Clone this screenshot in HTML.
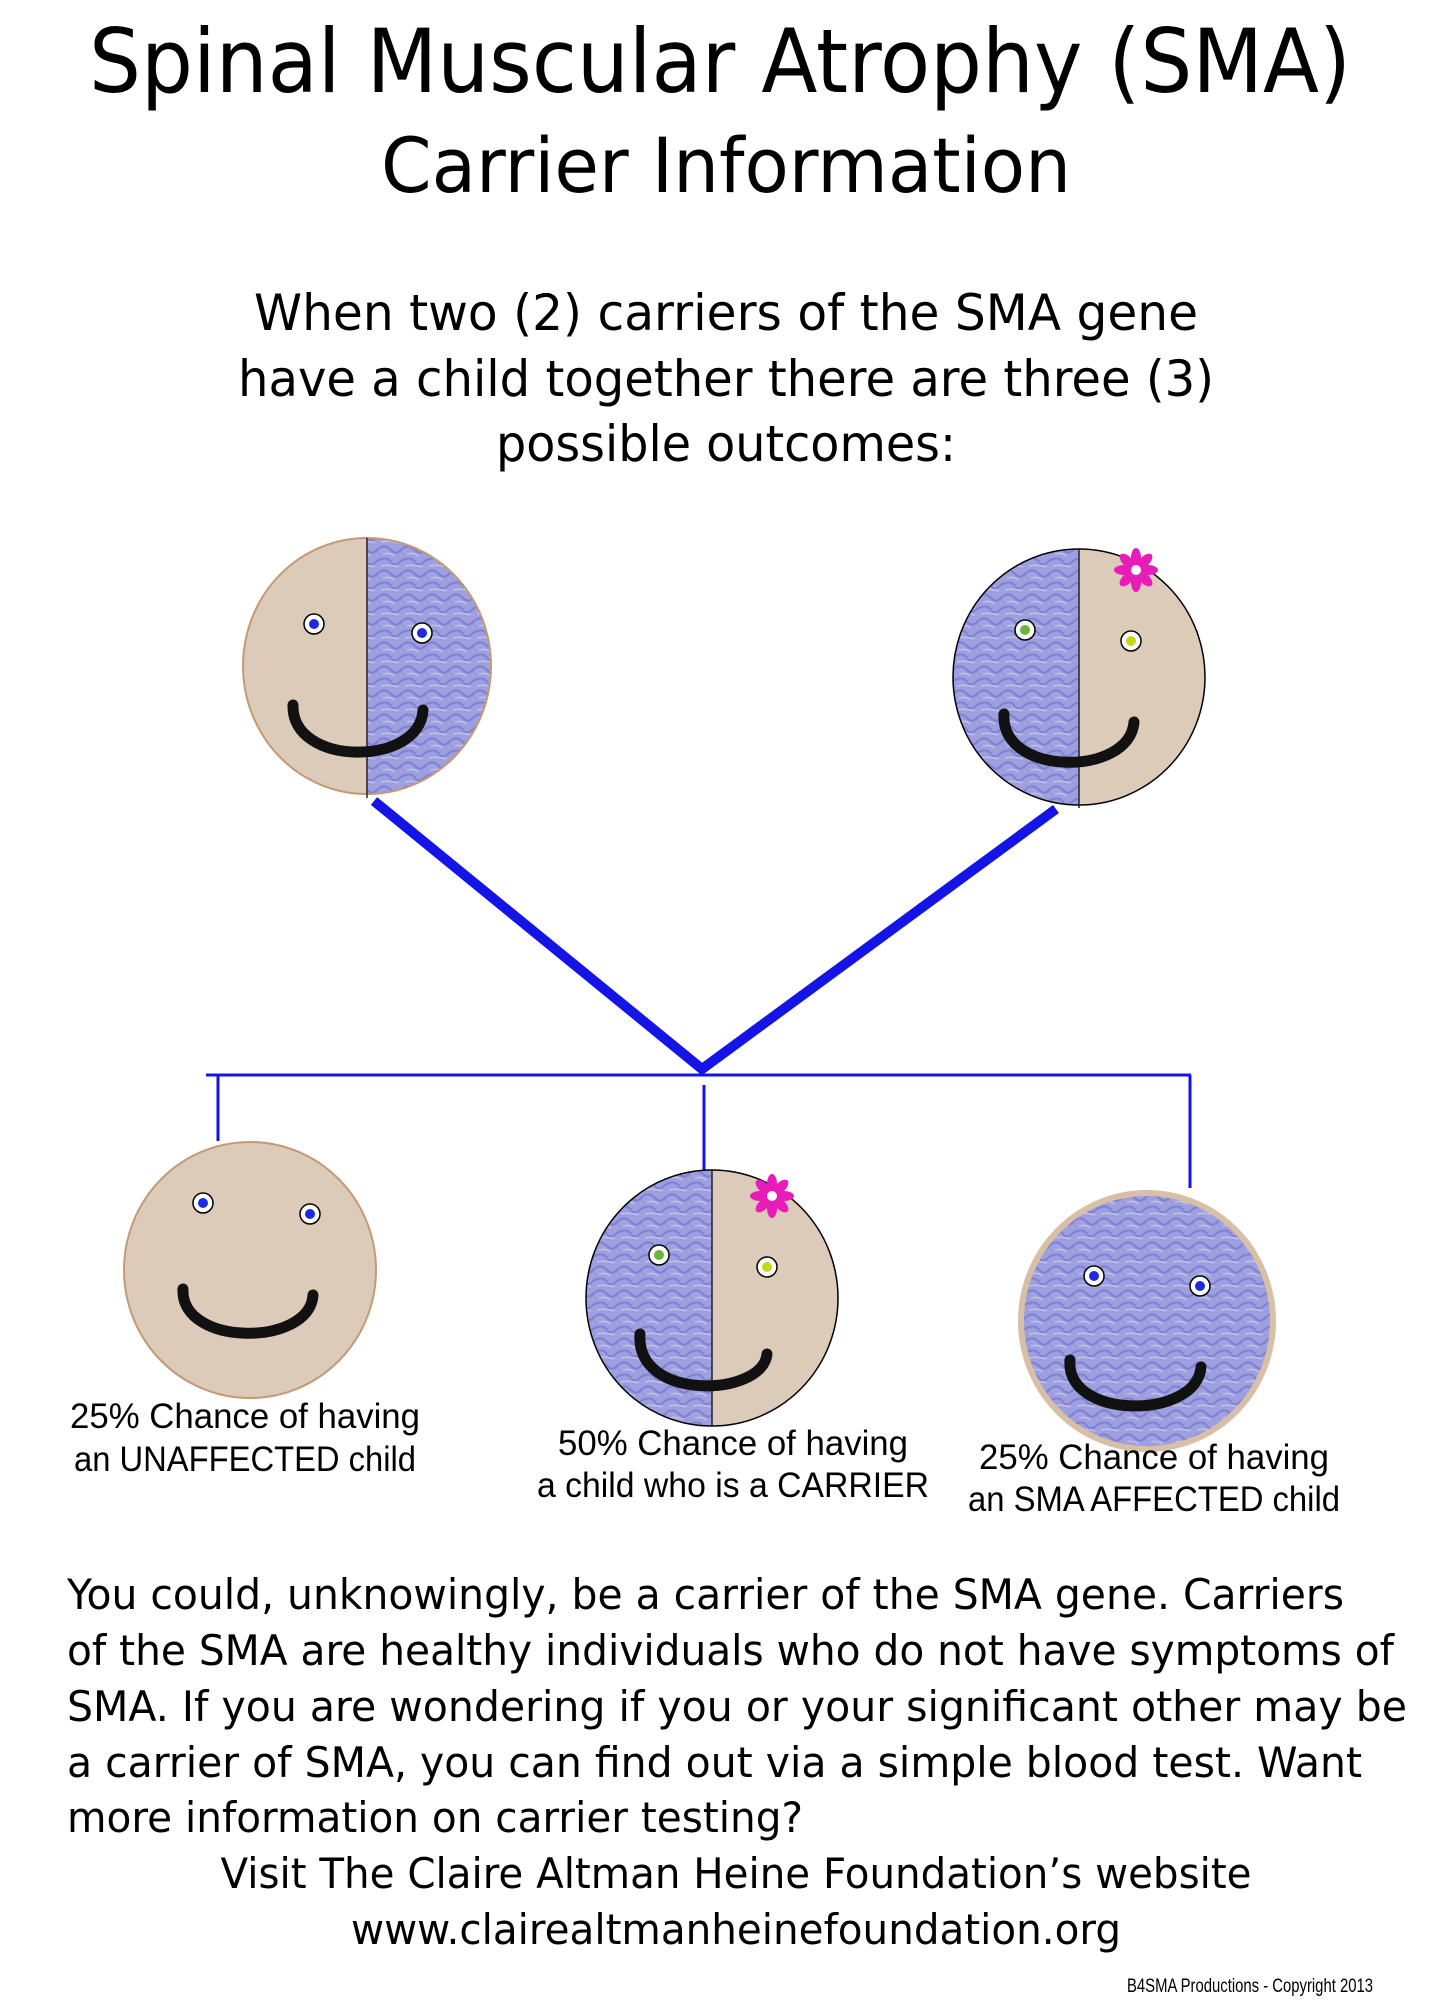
<!DOCTYPE html>
<html><head><meta charset="utf-8"><style>
html,body{margin:0;padding:0;background:#fff;width:1440px;height:2016px;overflow:hidden}
svg{display:block}
text{font-family:"DejaVu Sans","Liberation Sans",sans-serif;fill:#000}
.l{font-family:"Liberation Sans",sans-serif}
</style></head><body>
<svg width="1440" height="2016" viewBox="0 0 1440 2016" xmlns="http://www.w3.org/2000/svg">
<defs>
<pattern id="blue" patternUnits="userSpaceOnUse" width="24" height="24">
<rect width="24" height="24" fill="#9e9fdf"/>
<path d="M0,4 Q6,0 12,6 T24,4 M0,16 Q8,12 12,18 T24,15" fill="none" stroke="#7d80d6" stroke-width="2"/>
<path d="M4,10 Q10,8 16,12 M2,22 Q10,20 20,23" fill="none" stroke="#c2c2e6" stroke-width="1.5"/>
</pattern>
<g id="eyeB"><circle r="10" fill="#fff" stroke="#000" stroke-width="1.5"/><circle r="5" fill="#1a2be0"/></g>
<g id="eyeG"><circle r="10" fill="#fff" stroke="#000" stroke-width="1.5"/><circle r="5" fill="#6ab53a"/></g>
<g id="eyeY"><circle r="10" fill="#fff" stroke="#000" stroke-width="1.5"/><circle r="5" fill="#c6d61a"/></g>
<g id="flower" fill="#e81cb8">
<ellipse cx="0" cy="-12" rx="5" ry="10"/><ellipse cx="0" cy="12" rx="5" ry="10"/>
<ellipse cx="-12" cy="0" rx="10" ry="5"/><ellipse cx="12" cy="0" rx="10" ry="5"/>
<ellipse cx="0" cy="-12" rx="5" ry="10" transform="rotate(45)"/><ellipse cx="0" cy="12" rx="5" ry="10" transform="rotate(45)"/>
<ellipse cx="0" cy="-12" rx="5" ry="10" transform="rotate(-45)"/><ellipse cx="0" cy="12" rx="5" ry="10" transform="rotate(-45)"/>
<circle r="5" fill="#fff"/></g>
<clipPath id="cL"><ellipse cx="372" cy="674" rx="124" ry="128"/></clipPath>
<clipPath id="cR"><ellipse cx="1084" cy="685" rx="126" ry="128"/></clipPath>
<clipPath id="cM"><ellipse cx="717" cy="1306" rx="126" ry="128"/></clipPath>
</defs>

<text x="720" y="92" font-size="88" text-anchor="middle" textLength="1262" lengthAdjust="spacingAndGlyphs">Spinal Muscular Atrophy (SMA)</text>
<text x="726" y="192" font-size="76" text-anchor="middle" textLength="690" lengthAdjust="spacingAndGlyphs">Carrier Information</text>
<text x="726" y="330" font-size="50" text-anchor="middle" textLength="944" lengthAdjust="spacingAndGlyphs">When two (2) carriers of the SMA gene</text>
<text x="726" y="396" font-size="50" text-anchor="middle" textLength="976" lengthAdjust="spacingAndGlyphs">have a child together there are three (3)</text>
<text x="726" y="461" font-size="50" text-anchor="middle" textLength="460" lengthAdjust="spacingAndGlyphs">possible outcomes:</text>

<g transform="translate(-5,-8)">
<g clip-path="url(#cL)">
<rect x="240" y="540" width="132" height="270" fill="#dccbb8"/>
<rect x="372" y="540" width="130" height="270" fill="url(#blue)"/>
</g>
<ellipse cx="372" cy="674" rx="124" ry="128" fill="none" stroke="#c49a76" stroke-width="2"/>
<line x1="372" y1="546" x2="372" y2="806" stroke="#222" stroke-width="1.5"/>
<use href="#eyeB" x="319" y="632"/><use href="#eyeB" x="427" y="641"/>
<path d="M298,713 C296,775 425,775 428,718" fill="none" stroke="#111" stroke-width="11" stroke-linecap="round"/>

<g clip-path="url(#cR)">
<rect x="950" y="550" width="134" height="270" fill="url(#blue)"/>
<rect x="1084" y="550" width="130" height="270" fill="#dccbb8"/>
</g>
<ellipse cx="1084" cy="685" rx="126" ry="128" fill="none" stroke="#000" stroke-width="1.5"/>
<line x1="1084" y1="557" x2="1084" y2="816" stroke="#222" stroke-width="1.5"/>
<use href="#eyeG" x="1030" y="638"/><use href="#eyeY" x="1136" y="649"/>
<path d="M1009,722 C1005,785 1135,785 1139,730" fill="none" stroke="#111" stroke-width="11" stroke-linecap="round"/>
<use href="#flower" x="1141" y="578"/>

<path d="M379,809 L707,1077 L1061,817" fill="none" stroke="#1414e6" stroke-width="10"/>
<line x1="211" y1="1083" x2="1196" y2="1083" stroke="#1414e6" stroke-width="3"/>
<line x1="223" y1="1083" x2="223" y2="1149" stroke="#1414e6" stroke-width="3"/>
<line x1="709" y1="1093" x2="709" y2="1180" stroke="#1414e6" stroke-width="3"/>
<line x1="1195" y1="1083" x2="1195" y2="1196" stroke="#1414e6" stroke-width="3"/>

<ellipse cx="255" cy="1278" rx="126" ry="128" fill="#dccbb8" stroke="#c49a76" stroke-width="2"/>
<use href="#eyeB" x="208" y="1211"/><use href="#eyeB" x="315" y="1222"/>
<path d="M188,1297 C185,1355 315,1355 318,1303" fill="none" stroke="#111" stroke-width="11" stroke-linecap="round"/>

<g clip-path="url(#cM)">
<rect x="585" y="1170" width="132" height="270" fill="url(#blue)"/>
<rect x="717" y="1170" width="130" height="270" fill="#dccbb8"/>
</g>
<ellipse cx="717" cy="1306" rx="126" ry="128" fill="none" stroke="#000" stroke-width="1.5"/>
<line x1="717" y1="1178" x2="717" y2="1434" stroke="#222" stroke-width="1.5"/>
<use href="#eyeG" x="664" y="1263"/><use href="#eyeY" x="772" y="1275"/>
<path d="M645,1342 C640,1410 768,1405 772,1362" fill="none" stroke="#111" stroke-width="11" stroke-linecap="round"/>
<use href="#flower" x="777" y="1204"/>

<ellipse cx="1152" cy="1329" rx="126" ry="128" fill="url(#blue)" stroke="#d8c0a6" stroke-width="6"/>
<use href="#eyeB" x="1099" y="1284"/><use href="#eyeB" x="1205" y="1294"/>
<path d="M1075,1368 C1070,1428 1202,1428 1206,1375" fill="none" stroke="#111" stroke-width="11" stroke-linecap="round"/>

<g font-size="35" text-anchor="middle">
<text class="l" x="250" y="1436" textLength="350" lengthAdjust="spacingAndGlyphs">25% Chance of having</text>
<text class="l" x="250" y="1479" textLength="342" lengthAdjust="spacingAndGlyphs">an UNAFFECTED child</text>
<text class="l" x="738" y="1463" textLength="350" lengthAdjust="spacingAndGlyphs">50% Chance of having</text>
<text class="l" x="738" y="1505" textLength="392" lengthAdjust="spacingAndGlyphs">a child who is a CARRIER</text>
<text class="l" x="1159" y="1477" textLength="350" lengthAdjust="spacingAndGlyphs">25% Chance of having</text>
<text class="l" x="1159" y="1519" textLength="372" lengthAdjust="spacingAndGlyphs">an SMA AFFECTED child</text>
</g>
</g>

<g font-size="42">
<text x="67" y="1609" textLength="1277" lengthAdjust="spacingAndGlyphs">You could, unknowingly, be a carrier of the SMA gene. Carriers</text>
<text x="67" y="1665" textLength="1327" lengthAdjust="spacingAndGlyphs">of the SMA are healthy individuals who do not have symptoms of</text>
<text x="67" y="1721" textLength="1340" lengthAdjust="spacingAndGlyphs">SMA. If you are wondering if you or your significant other may be</text>
<text x="67" y="1777" textLength="1295" lengthAdjust="spacingAndGlyphs">a carrier of SMA, you can find out via a simple blood test. Want</text>
<text x="67" y="1832" textLength="736" lengthAdjust="spacingAndGlyphs">more information on carrier testing?</text>
<text x="736" y="1888" text-anchor="middle" textLength="1031" lengthAdjust="spacingAndGlyphs">Visit The Claire Altman Heine Foundation’s website</text>
<text x="736" y="1944" text-anchor="middle" textLength="770" lengthAdjust="spacingAndGlyphs">www.clairealtmanheinefoundation.org</text>
</g>
<text class="l" x="1250" y="1992" font-size="19" text-anchor="middle" textLength="246" lengthAdjust="spacingAndGlyphs">B4SMA Productions - Copyright 2013</text>
</svg>
</body></html>
